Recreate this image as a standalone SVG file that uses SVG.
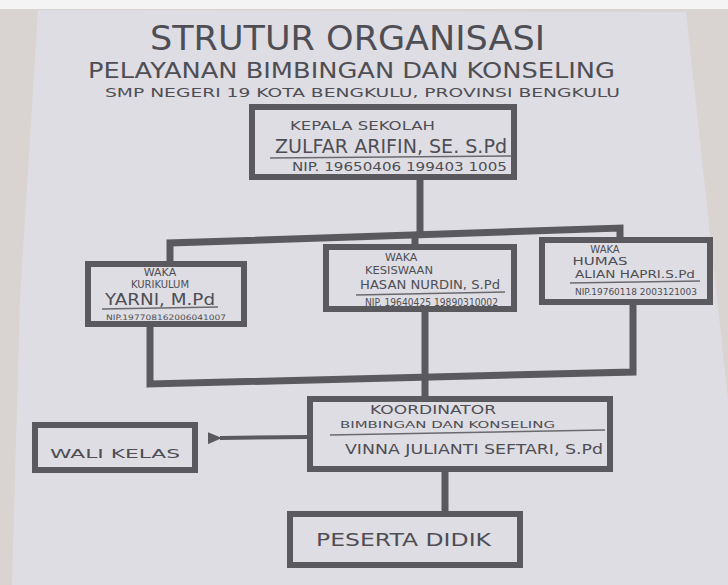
<svg xmlns="http://www.w3.org/2000/svg" width="728" height="585" viewBox="0 0 728 585">
<style>
.box{fill:none;stroke:#5a5a5e;stroke-width:6;stroke-linejoin:miter}
.ln{fill:none;stroke:#5a5a5e;stroke-width:7}
.ar{fill:none;stroke:#5a5a5e;stroke-width:4}
.ul{fill:none;stroke:#6a6a6e;stroke-width:1.5}
text{font-family:"DejaVu Sans","Liberation Sans",sans-serif;fill:#4e4e54}
</style>
<defs>
<marker id="ah" markerWidth="14" markerHeight="12" refX="2" refY="6" orient="auto" markerUnits="userSpaceOnUse"><path d="M14,0 L0,6 L14,12 Z" fill="#5a5a5e"/></marker>
</defs>
<rect x="0" y="0" width="728" height="585" fill="#d9d4d2"/>
<rect x="0" y="0" width="728" height="9" fill="#f4f4f4"/>
<polygon points="38,10 686,12 728,400 728,585 12,585 20,300" fill="#dedde3"/>
<g id="title">
<text x="150" y="50" font-size="33" textLength="395" lengthAdjust="spacingAndGlyphs">STRUTUR ORGANISASI</text>
<text x="88" y="78" font-size="22" textLength="527" lengthAdjust="spacingAndGlyphs">PELAYANAN BIMBINGAN DAN KONSELING</text>
<text x="105" y="97" font-size="13" textLength="515" lengthAdjust="spacingAndGlyphs">SMP NEGERI 19  KOTA BENGKULU, PROVINSI BENGKULU</text>
</g>
<g id="connectors">
<polyline class="ln" points="420,178 420,234"/>
<polyline class="ln" points="170,266 170,243 620,228 620,240"/>
<polyline class="ln" points="415,236 415,247"/>
<polyline class="ln" points="150,325 150,384 633,372 633,302"/>
<polyline class="ln" points="425,310 425,400"/>
<polyline class="ln" points="445,470 445,515"/>
<line class="ar" x1="308" y1="437" x2="220" y2="438" marker-end="url(#ah)"/>
</g>
<g id="kepala">
<rect class="box" x="252" y="107" width="262" height="70"/>
<text x="290" y="130" font-size="13" textLength="145" lengthAdjust="spacingAndGlyphs">KEPALA SEKOLAH</text>
<text x="275" y="153" font-size="20" textLength="232" lengthAdjust="spacingAndGlyphs">ZULFAR ARIFIN, SE. S.Pd</text>
<line class="ul" x1="270" y1="158" x2="512" y2="156"/>
<text x="292" y="171" font-size="11.5" textLength="215" lengthAdjust="spacingAndGlyphs">NIP. 19650406 199403 1005</text>
</g>
<g id="kurikulum">
<rect class="box" x="88" y="264" width="156" height="60"/>
<text x="160" y="276" font-size="11" text-anchor="middle">WAKA</text>
<text x="160" y="288" font-size="10" text-anchor="middle">KURIKULUM</text>
<text x="105" y="305" font-size="15" textLength="110" lengthAdjust="spacingAndGlyphs">YARNI, M.Pd</text>
<line class="ul" x1="102" y1="309" x2="218" y2="307"/>
<text x="106" y="320" font-size="7.5" textLength="120" lengthAdjust="spacingAndGlyphs">NIP.197708162006041007</text>
</g>
<g id="kesiswaan">
<rect class="box" x="326" y="247" width="188" height="62"/>
<text x="385" y="261" font-size="11">WAKA</text>
<text x="365" y="274" font-size="10" textLength="68" lengthAdjust="spacingAndGlyphs">KESISWAAN</text>
<text x="360" y="289" font-size="11.5" textLength="140" lengthAdjust="spacingAndGlyphs">HASAN NURDIN, S.Pd</text>
<line class="ul" x1="356" y1="295" x2="505" y2="292"/>
<text x="365" y="306" font-size="10" textLength="133" lengthAdjust="spacingAndGlyphs">NIP. 19640425 19890310002</text>
</g>
<g id="humas">
<rect class="box" x="542" y="240" width="168" height="62"/>
<text x="605" y="253" font-size="10" text-anchor="middle">WAKA</text>
<text x="600" y="265" font-size="10" text-anchor="middle" textLength="55" lengthAdjust="spacingAndGlyphs">HUMAS</text>
<text x="575" y="278" font-size="10.5" textLength="120" lengthAdjust="spacingAndGlyphs">ALIAN HAPRI.S.Pd</text>
<line class="ul" x1="570" y1="283" x2="700" y2="281"/>
<text x="575" y="295" font-size="8" textLength="122" lengthAdjust="spacingAndGlyphs">NIP.19760118 2003121003</text>
</g>
<g id="koordinator">
<rect class="box" x="310" y="399" width="300" height="70"/>
<text x="370" y="414" font-size="12" textLength="126" lengthAdjust="spacingAndGlyphs">KOORDINATOR</text>
<text x="340" y="428" font-size="8.5" textLength="215" lengthAdjust="spacingAndGlyphs">BIMBINGAN  DAN  KONSELING</text>
<line class="ul" x1="330" y1="435" x2="605" y2="430"/>
<text x="345" y="454" font-size="14" textLength="258" lengthAdjust="spacingAndGlyphs">VINNA  JULIANTI SEFTARI, S.Pd</text>
</g>
<g id="walikelas">
<rect class="box" x="35" y="425" width="160" height="45"/>
<text x="50" y="458" font-size="13" textLength="130" lengthAdjust="spacingAndGlyphs">WALI  KELAS</text>
</g>
<g id="peserta">
<rect class="box" x="290" y="514" width="230" height="51"/>
<text x="316" y="546" font-size="17" textLength="175" lengthAdjust="spacingAndGlyphs">PESERTA  DIDIK</text>
</g>
</svg>
